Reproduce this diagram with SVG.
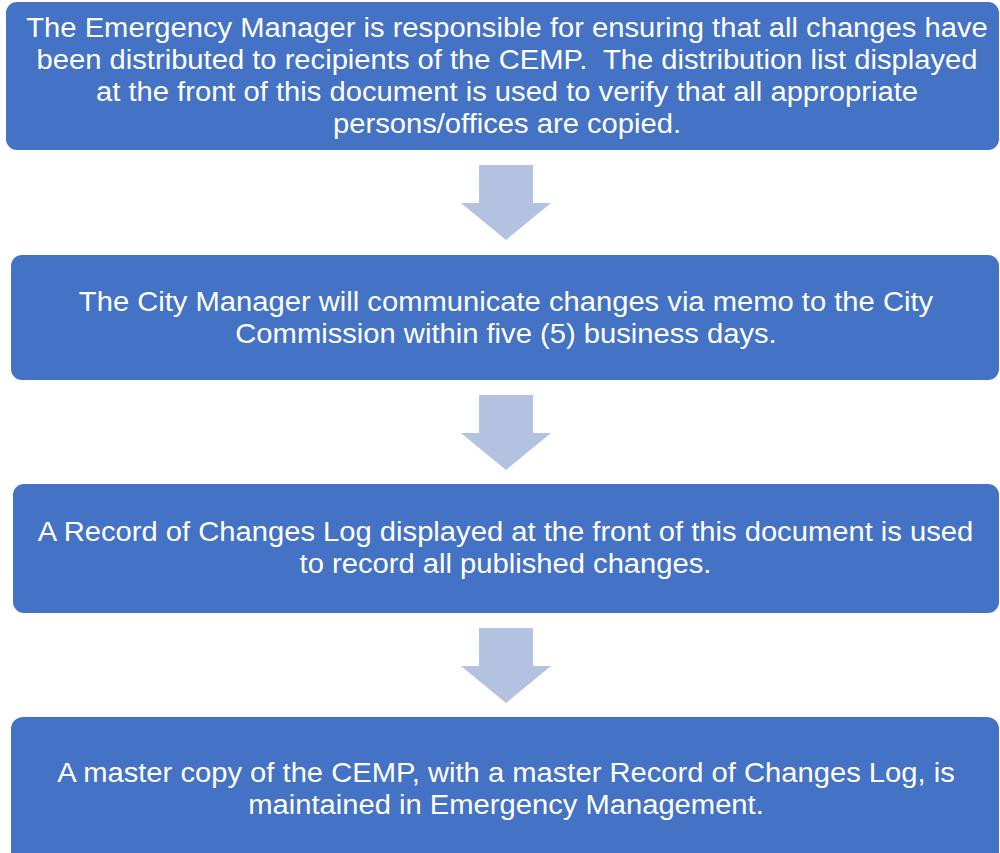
<svg xmlns="http://www.w3.org/2000/svg" width="1000" height="853" viewBox="0 0 1000 853">
<style>
.box{fill:#4472c4}
.arr{fill:#b4c2e1}
.t{font-family:"Liberation Sans",Arial,sans-serif;font-size:26.7px;fill:#ffffff;text-anchor:middle;white-space:pre}
</style>
<rect width="1000" height="853" fill="#ffffff"/>
<g id="connectors">
<polygon class="arr" points="479,165 533,165 533,203 551,203 506,240 461,203 479,203"/>
<polygon class="arr" points="479,395 533,395 533,433 551,433 506,470 461,433 479,433"/>
<polygon class="arr" points="479,628 533,628 533,666 551,666 506,703 461,666 479,666"/>
</g>
<g id="node1">
<rect class="box" x="6" y="2" width="993" height="148" rx="11"/>
<text class="t" xml:space="preserve" transform="translate(507,0) scale(1.093,1)"><tspan x="0" y="37">The Emergency Manager is responsible for ensuring that all changes have</tspan><tspan x="0" y="69">been distributed to recipients of the CEMP.  The distribution list displayed</tspan><tspan x="0" y="101">at the front of this document is used to verify that all appropriate</tspan><tspan x="0" y="133">persons/offices are copied.</tspan></text>
</g>
<g id="node2">
<rect class="box" x="11" y="255" width="988" height="125" rx="11"/>
<text class="t" transform="translate(506,0) scale(1.093,1)"><tspan x="0" y="311">The City Manager will communicate changes via memo to the City</tspan><tspan x="0" y="343">Commission within five (5) business days.</tspan></text>
</g>
<g id="node3">
<rect class="box" x="13" y="484" width="986" height="129" rx="11"/>
<text class="t" transform="translate(505.5,0) scale(1.093,1)"><tspan x="0" y="541">A Record of Changes Log displayed at the front of this document is used</tspan><tspan x="0" y="573">to record all published changes.</tspan></text>
</g>
<g id="node4">
<rect class="box" x="11" y="717" width="988" height="150" rx="12"/>
<text class="t" transform="translate(506,0) scale(1.093,1)"><tspan x="0" y="782">A master copy of the CEMP, with a master Record of Changes Log, is</tspan><tspan x="0" y="814">maintained in Emergency Management.</tspan></text>
</g>
</svg>
